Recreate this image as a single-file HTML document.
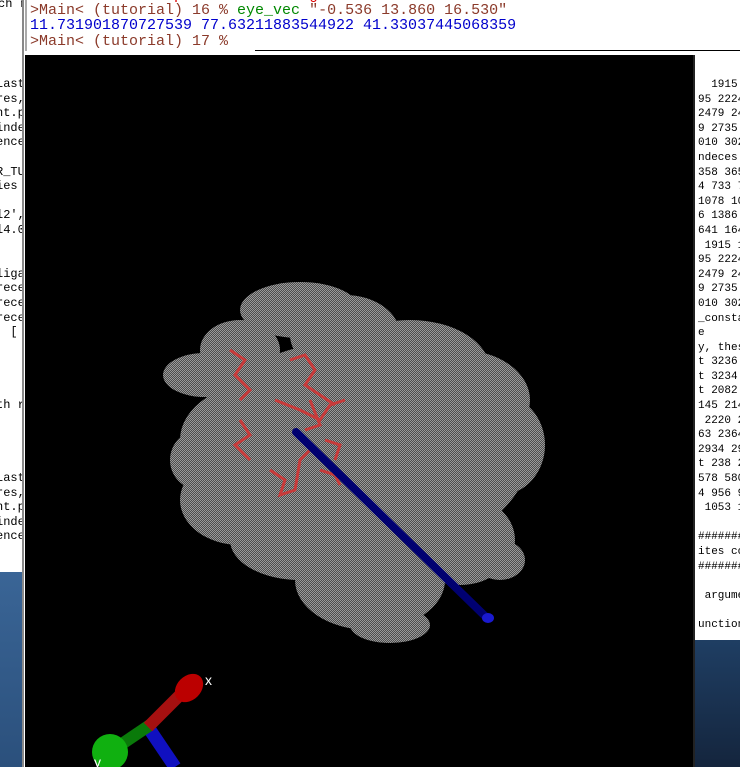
<!DOCTYPE html>
<html><head><meta charset="utf-8"><style>
body{margin:0;width:740px;height:767px;overflow:hidden;background:#fff;position:relative;font-family:"Liberation Mono",monospace}
.mono{font-family:"Liberation Mono","DejaVu Sans Mono",monospace;font-size:13px;white-space:pre;position:absolute;line-height:14.6px}
</style></head><body>
<div style="position:absolute;left:0;top:0;width:23px;height:767px;background:#fff;overflow:hidden">
<div class="mono" style="left:-2px;top:-2px;color:#000;font-size:12px;line-height:12.1px">ch r</div>
<div class="mono" style="left:-4px;top:77px;color:#000;font-size:12px;line-height:14.6px">Last
res,
nt.p
inde
ence

R_TU
ies

l2',
l4.0


liga
rece
rece
rece
  [




th r




Last
res,
nt.p
inde
ence</div>
<div style="position:absolute;left:0;top:572px;width:23px;height:195px;background:linear-gradient(#3a6596,#2b507c)"></div>
</div>
<div style="position:absolute;left:22px;top:0;width:2px;height:767px;background:#888"></div>
<div style="position:absolute;left:25px;top:0;width:715px;height:51px;background:#fff;overflow:hidden">
<div style="position:absolute;left:0;top:0;width:2px;height:51px;background:#aaa"></div>
<div class="mono" style="left:5px;top:-12px;color:#d00;font-size:15px;line-height:16px">Plotchart data updated in Triangle</div>
<div class="mono" style="left:5px;top:3px;font-size:15px;line-height:16px"><span style="color:#8b3a2a">&gt;Main&lt; (tutorial) 16 % </span><span style="color:#080">eye_vec</span> <span style="color:#8b3a2a">"-0.536 13.860 16.530"</span></div>
<div class="mono" style="left:5px;top:18px;color:#00c;font-size:15px;line-height:16px">11.731901870727539 77.63211883544922 41.33037445068359</div>
<div class="mono" style="left:5px;top:34px;color:#8b3a2a;font-size:15px;line-height:16px">&gt;Main&lt; (tutorial) 17 %</div>
<div style="position:absolute;left:230px;top:50px;width:485px;height:1px;background:#000"></div>
</div>
<div style="position:absolute;left:25px;top:55px;width:668px;height:712px;background:#000"></div>
<div style="position:absolute;left:693px;top:55px;width:47px;height:712px;background:#fff;overflow:hidden;border-left:2px solid #222">
<div class="mono" style="left:3px;top:23px;color:#000;font-size:11px">  1915 1
95 2224
2479 24
9 2735
010 302
ndeces
358 365
4 733 7
1078 10
6 1386
641 164
 1915 1
95 2224
2479 24
9 2735
010 302
_consta
e
y, thes
t 3236
t 3234
t 2082
145 214
 2220 2
63 2364
2934 29
t 238 2
578 580
4 956 9
 1053 1

#######
ites co
#######

 argume

unction</div>
<div style="position:absolute;left:0;top:585px;width:47px;height:127px;background:linear-gradient(#1f3e63,#14253d)"></div>
</div>
<svg width="740" height="767" style="position:absolute;left:0;top:0">
<defs>
<pattern id="chk" width="2" height="2" patternUnits="userSpaceOnUse"><rect width="2" height="2" fill="#4e4e4e"/><rect width="1" height="1" fill="#9a9a9a"/><rect x="1" y="1" width="1" height="1" fill="#9a9a9a"/></pattern>
<linearGradient id="bl" x1="0" y1="0" x2="1" y2="-1"><stop offset="0" stop-color="#000070"/><stop offset=".5" stop-color="#2a2ad0"/><stop offset="1" stop-color="#000070"/></linearGradient>
</defs>
<g fill="url(#chk)">
<ellipse cx="300" cy="310" rx="60" ry="28"/>
<ellipse cx="345" cy="335" rx="55" ry="40"/>
<ellipse cx="240" cy="350" rx="40" ry="30"/>
<ellipse cx="205" cy="375" rx="42" ry="22"/>
<ellipse cx="360" cy="450" rx="170" ry="110"/>
<ellipse cx="410" cy="370" rx="80" ry="50"/>
<ellipse cx="460" cy="400" rx="70" ry="50"/>
<ellipse cx="500" cy="445" rx="45" ry="50"/>
<ellipse cx="270" cy="440" rx="90" ry="60"/>
<ellipse cx="240" cy="500" rx="60" ry="45"/>
<ellipse cx="300" cy="540" rx="70" ry="40"/>
<ellipse cx="370" cy="580" rx="75" ry="50"/>
<ellipse cx="460" cy="540" rx="55" ry="45"/>
<ellipse cx="500" cy="560" rx="25" ry="20"/>
<ellipse cx="390" cy="625" rx="40" ry="18"/>
<ellipse cx="200" cy="460" rx="30" ry="30"/>
</g>
<g stroke="#c83a3a" stroke-width="3" fill="none">
<path d="M230 350 L245 360 L235 375 L250 390 L240 400"/>
<path d="M290 360 L305 355 L315 370 L305 385 L320 395 L335 405"/>
<path d="M275 400 L300 410 L320 420 L330 405 L345 400"/>
<path d="M240 420 L250 435 L235 445 L250 460"/>
<path d="M270 470 L285 480 L280 495 L295 490 L300 460 L310 450"/>
<path d="M325 440 L340 445 L335 460"/>
<path d="M320 470 L335 475 L340 485"/>
<path d="M310 400 L320 425 L305 430"/>
</g>
<line x1="296" y1="432" x2="487" y2="618" stroke="url(#bl)" stroke-width="8" stroke-linecap="round"/>
<ellipse cx="488" cy="618" rx="6" ry="5" fill="#1a1ad0"/>
<g>
<line x1="150" y1="730" x2="175" y2="767" stroke="#1010c0" stroke-width="13"/>
<line x1="110" y1="752" x2="150" y2="725" stroke="#0a7a0a" stroke-width="12"/>
<line x1="148" y1="727" x2="185" y2="690" stroke="#a51010" stroke-width="12"/>
<ellipse cx="189" cy="688" rx="12" ry="16" transform="rotate(45 189 688)" fill="#b00"/>
<circle cx="110" cy="752" r="18" fill="#10b010"/>
<text x="205" y="685" fill="#fff" font-family="Liberation Sans,sans-serif" font-size="14">x</text>
<text x="94" y="767" fill="#fff" font-family="Liberation Sans,sans-serif" font-size="14">y</text>
</g>
</svg>
</body></html>
